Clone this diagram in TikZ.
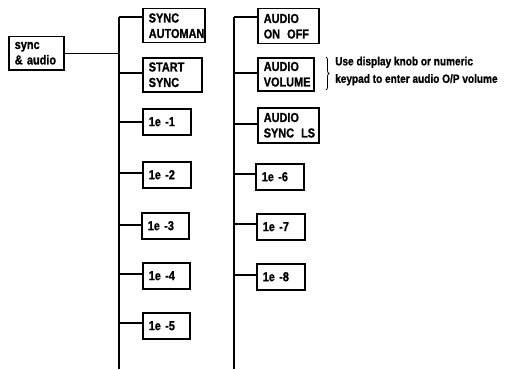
\documentclass[tikz,border=0pt]{standalone}
\usepackage{fontspec}
\setmainfont{Liberation Sans Bold}[FakeStretch=0.84, FakeBold=1]
\usetikzlibrary{decorations.pathreplacing}
\tikzset{
  box/.style={draw, line width=1.5pt, anchor=north west, inner xsep=6pt, inner ysep=0pt,
    align=left, font=\fontsize{13}{15.5}\selectfont},
  conn/.style={line width=1.1pt},
  note/.style={anchor=west, align=left, inner sep=0pt, font=\fontsize{12}{17.5}\selectfont}
}
\begin{document}
\begin{tikzpicture}[x=1pt,y=-1pt]
\useasboundingbox (0,0) rectangle (510,369);
% root
\node[box, text width=43pt, minimum height=33pt] (sa) at (8,36) {sync\\\&~audio};
% column 1
\node[box, text width=50pt, minimum height=34pt] (s1) at (142,8) {SYNC\\AUTOMAN};
\node[box, text width=47pt, minimum height=34pt] (s2) at (142,57) {START\\SYNC};
\node[box, text width=36pt, minimum height=26pt] (e1) at (142,108) {1e~-1};
\node[box, text width=36pt, minimum height=26pt] (e2) at (142,161) {1e~-2};
\node[box, text width=35pt, minimum height=26pt] (e3) at (141,212) {1e~-3};
\node[box, text width=35pt, minimum height=26pt] (e4) at (142,262) {1e~-4};
\node[box, text width=35pt, minimum height=26pt] (e5) at (142,312) {1e~-5};
% column 2
\node[box, text width=49pt, minimum height=35pt] (a1) at (257,8) {AUDIO\\\mbox{ON\hspace{7pt}OFF}};
\node[box, text width=44pt, minimum height=33pt] (a2) at (257,57) {AUDIO\\VOLUME};
\node[box, text width=49pt, minimum height=35pt] (a3) at (257,107) {AUDIO\\\mbox{SYNC\hspace{7pt}LS}};
\node[box, text width=36pt, minimum height=26pt] (e6) at (255,163) {1e~-6};
\node[box, text width=36pt, minimum height=26pt] (e7) at (256,213) {1e~-7};
\node[box, text width=36pt, minimum height=26pt] (e8) at (256,263) {1e~-8};
% annotation
\coordinate (bt) at (326,57);
\coordinate (bb) at (326,90);
\draw[line width=0.8pt, decorate, decoration={brace, amplitude=3pt}] (bt) -- (bb);
\node[note] (nt) at (335,71) {Use display knob or numeric\\keypad to enter audio O/P volume};
% trunks
\coordinate (t1top) at (119,17);
\coordinate (t1bot) at (119,369);
\coordinate (t2top) at (234,17);
\coordinate (t2bot) at (234,369);
\draw[conn] (t1top) -- (t1bot);
\draw[conn] (t2top) -- (t2bot);
\draw[conn] (sa.east) -- (sa.east -| t1top);
% branch points column 1
\coordinate (j1) at (119,17);
\coordinate (j2) at (119,73);
\coordinate (j3) at (119,122);
\coordinate (j4) at (119,173);
\coordinate (j5) at (119,225);
\coordinate (j6) at (119,274);
\coordinate (j7) at (119,323);
\draw[conn] (j1) -- (j1 -| s1.west);
\draw[conn] (j2) -- (j2 -| s2.west);
\draw[conn] (j3) -- (j3 -| e1.west);
\draw[conn] (j4) -- (j4 -| e2.west);
\draw[conn] (j5) -- (j5 -| e3.west);
\draw[conn] (j6) -- (j6 -| e4.west);
\draw[conn] (j7) -- (j7 -| e5.west);
% branch points column 2
\coordinate (k1) at (234,17);
\coordinate (k2) at (234,73);
\coordinate (k3) at (234,124);
\coordinate (k4) at (234,174);
\coordinate (k5) at (234,224);
\coordinate (k6) at (234,275);
\draw[conn] (k1) -- (k1 -| a1.west);
\draw[conn] (k2) -- (k2 -| a2.west);
\draw[conn] (k3) -- (k3 -| a3.west);
\draw[conn] (k4) -- (k4 -| e6.west);
\draw[conn] (k5) -- (k5 -| e7.west);
\draw[conn] (k6) -- (k6 -| e8.west);
\end{tikzpicture}
\end{document}
